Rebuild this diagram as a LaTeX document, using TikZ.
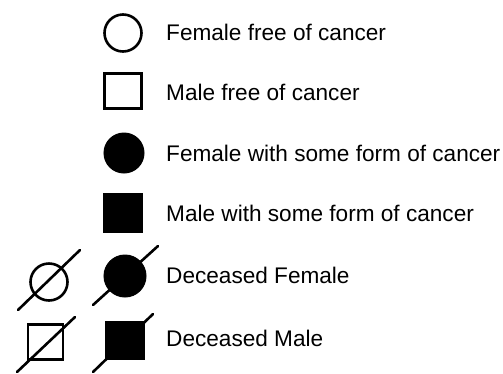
\documentclass[tikz,border=0pt]{standalone}
\usepackage{fontspec}
\setmainfont{Liberation Sans}
\begin{document}
\begin{tikzpicture}[x=1pt,y=-1pt,
  open/.style={draw=black,line width=2.6pt,fill=white,inner sep=0pt},
  full/.style={draw=black,line width=1pt,fill=black,inner sep=0pt},
  fem/.style={circle},
  mal/.style={rectangle},
  lbl/.style={anchor=base west,inner sep=0pt,font=\fontsize{22.6pt}{26pt}\selectfont},
  slash/.style={line width=2.6pt,line cap=round}]
\useasboundingbox (0,0) rectangle (503,373);
% rows
\node[open,fem,minimum size=37pt] (f1) at (123,33) {};
\node[lbl] (t1) at (166,40) {Female free of cancer};
\node[open,mal,minimum width=37pt,minimum height=35pt] (m1) at (123,91) {};
\node[lbl] (t2) at (166,100) {Male free of cancer};
\node[full,fem,minimum size=40pt] (f2) at (124,153) {};
\node[lbl] (t3) at (166,161) {Female with some form of cancer};
\node[full,mal,minimum size=39pt] (m2) at (123,213) {};
\node[lbl] (t4) at (166,221) {Male with some form of cancer};
% deceased female
\node[open,fem,minimum size=37pt] (df1) at (49,282) {};
\coordinate (a1) at (18,310); \coordinate (b1) at (80,250);
\draw[slash] (a1) -- (b1);
\node[full,fem,minimum size=42pt] (df2) at (125,276) {};
\coordinate (a2) at (93,305); \coordinate (b2) at (158,246);
\draw[slash] (a2) -- (b2);
\node[lbl] (t5) at (166,283) {Deceased Female};
% deceased male
\node[open,mal,minimum width=35pt,minimum height=35pt] (dm1) at (45.5,342) {};
\coordinate (a3) at (17,372); \coordinate (b3) at (75,317);
\draw[slash] (a3) -- (b3);
\node[full,mal,minimum width=39pt,minimum height=38pt] (dm2) at (125,340.5) {};
\coordinate (a4) at (93,372); \coordinate (b4) at (153,314);
\draw[slash] (a4) -- (b4);
\node[lbl] (t6) at (166,346) {Deceased Male};
\end{tikzpicture}
\end{document}
